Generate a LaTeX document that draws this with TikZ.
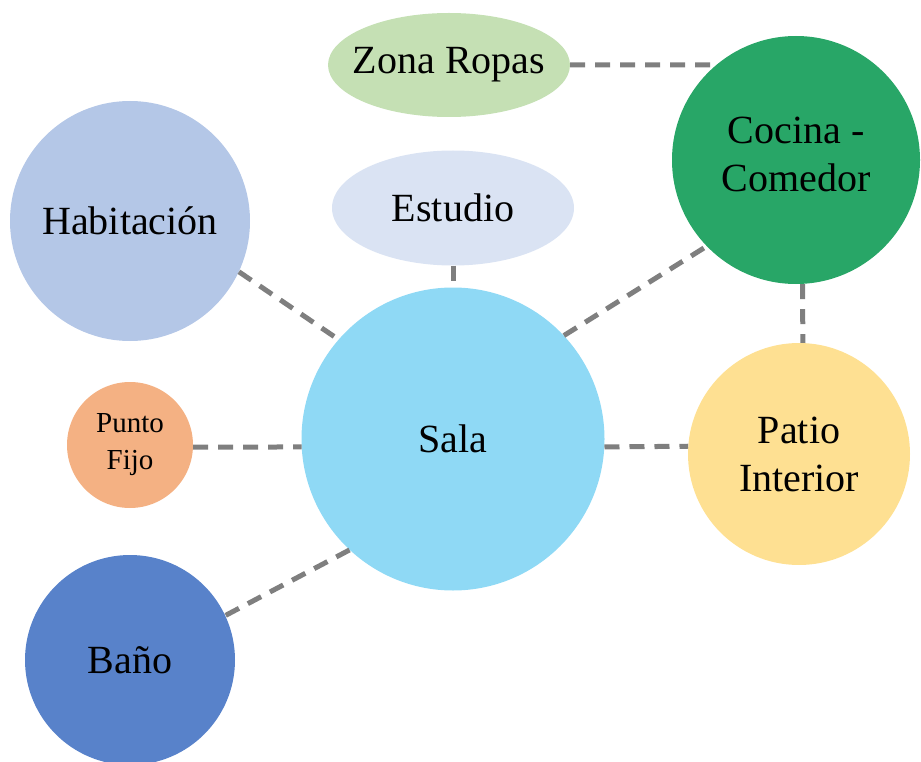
\documentclass[tikz,border=0pt]{standalone}
\usepackage{fontspec}
\setmainfont{Liberation Serif}
\usetikzlibrary{shapes.geometric}
\definecolor{salacol}{RGB}{143,217,245}
\definecolor{habcol}{RGB}{180,199,231}
\definecolor{estcol}{RGB}{218,227,243}
\definecolor{ropcol}{RGB}{197,224,180}
\definecolor{coccol}{RGB}{40,166,103}
\definecolor{patcol}{RGB}{254,224,146}
\definecolor{puncol}{RGB}{244,177,131}
\definecolor{bancol}{RGB}{88,130,202}
\definecolor{lineacol}{RGB}{127,127,127}
\begin{document}
\begin{tikzpicture}[x=1pt,y=-1pt,
    zona/.style={circle,inner sep=0pt,align=center,font=\fontsize{40}{48}\selectfont},
    elipse/.style={ellipse,inner sep=0pt,minimum width=242pt,align=center,font=\fontsize{40}{48}\selectfont},
    enlace/.style={draw=lineacol,line width=5pt,dash pattern=on 15pt off 10pt}]
    \useasboundingbox (0,0) rectangle (921,762);
    %% zonas
    \node[zona,fill=salacol,minimum size=303pt] (sala) at (453,439) {Sala};
    \node[zona,fill=habcol,minimum size=240pt] (hab) at (130,221) {Habitación};
    \node[elipse,fill=estcol,minimum height=115pt] (est) at (453,208) {\makebox[0pt]{Estudio}};
    \node[elipse,fill=ropcol,minimum height=104pt] (ropas) at (449,65) {\makebox[0pt]{Zona Ropas}};
    \node[zona,fill=coccol,minimum size=248pt] (cocina) at (796,160) {Cocina -\\Comedor\\[-36pt]};
    \node[zona,fill=patcol,minimum size=222pt] (patio) at (799,454) {Patio\\Interior};
    \node[zona,fill=puncol,minimum size=126pt,font=\fontsize{29}{37}\selectfont] (punto) at (130,445) {Punto\\Fijo};
    \node[zona,fill=bancol,minimum size=210pt] (bano) at (130,660) {Baño};
    %% enlaces
    \draw[enlace] (ropas.east) -- (cocina.130);
    \draw[enlace] (est.south) -- (sala.north);
    \draw[enlace] (hab.-25) -- (sala.139);
    \draw[enlace] (sala.43) -- (cocina.-136);
    \draw[enlace] (cocina.-87) -- (patio.88);
    \draw[enlace] (punto.-2) -- (sala.183);
    \draw[enlace] (sala.-3) -- (patio.176);
    \draw[enlace] (sala.227) -- (bano.25);
\end{tikzpicture}
\end{document}
